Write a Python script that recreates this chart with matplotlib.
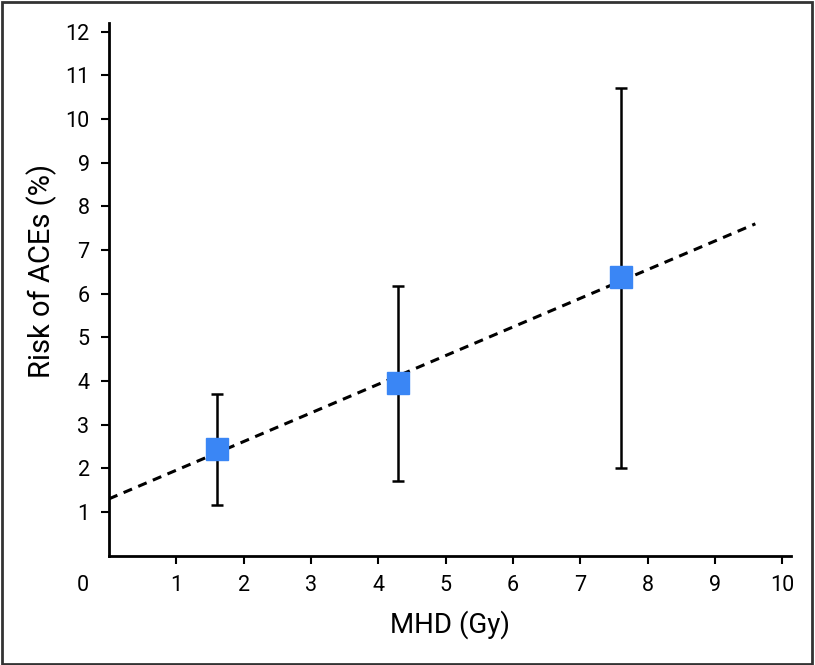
import matplotlib.pyplot as plt
import matplotlib.patches as patches

mhd = [1.6, 4.3, 7.6]
risk = [2.45, 3.95, 6.38]
ci_low = [1.15, 1.72, 2.0]
ci_high = [3.7, 6.18, 10.7]
fit_x = [0.0, 9.6]
fit_y = [1.3, 7.6]

plt.rcParams['font.family'] = ['Roboto', 'DejaVu Sans']

fig = plt.figure(figsize=(8.15, 6.65), dpi=100)
ax = fig.add_axes([0.1337, 0.1645, 0.8369, 0.8009])

ax.plot(fit_x, fit_y, ls=(0, (3, 2.2)), color='black', lw=2.2, zorder=2)

yerr = [[r - l for r, l in zip(risk, ci_low)], [h - r for r, h in zip(risk, ci_high)]]
ax.errorbar(mhd, risk, yerr=yerr, fmt='none', ecolor='black', elinewidth=1.8,
            capsize=4, capthick=1.8, zorder=3)
ax.plot(mhd, risk, 's', color='#3a86f5', markersize=16, zorder=4)

ax.set_xlim(0, 10.13)
ax.set_ylim(0, 12.2)
ax.set_xticks(range(1, 11))
ax.set_yticks(range(1, 13))
for s in ['top', 'right']:
    ax.spines[s].set_visible(False)
for s in ['left', 'bottom']:
    ax.spines[s].set_linewidth(2)
ax.tick_params(direction='out', length=6, width=1.5, labelsize=15.5, pad=8)
ax.annotate('0', xy=(0, 0), xycoords='data', xytext=(-19, -21.5),
            textcoords='offset points', ha='center', va='center', fontsize=15.5,
            annotation_clip=False)

ax.set_xlabel('MHD (Gy)', fontsize=20, labelpad=10)
ax.set_ylabel('Risk of ACEs (%)', fontsize=21)
ax.yaxis.set_label_coords(-0.076, 0.534)

fig.patches.append(patches.Rectangle((0.002, 0.002), 0.994, 0.995, transform=fig.transFigure,
                                     fill=False, edgecolor='#333333', linewidth=2))

fig.savefig('out.png', dpi=100)
